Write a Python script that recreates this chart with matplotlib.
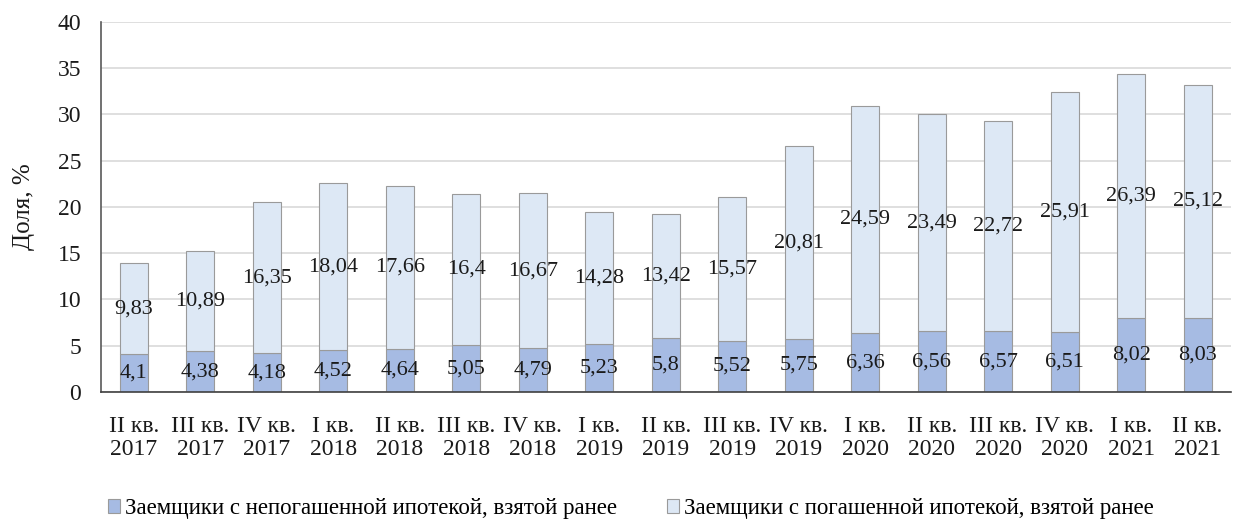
import numpy as np
import matplotlib.pyplot as plt

# Quarters on the X axis
quarters = ['II кв.\n2017', 'III кв.\n2017', 'IV кв.\n2017',
            'I кв.\n2018', 'II кв.\n2018', 'III кв.\n2018', 'IV кв.\n2018',
            'I кв.\n2019', 'II кв.\n2019', 'III кв.\n2019', 'IV кв.\n2019',
            'I кв.\n2020', 'II кв.\n2020', 'III кв.\n2020', 'IV кв.\n2020',
            'I кв.\n2021', 'II кв.\n2021']

# Shares, %
unpaid = [4.1, 4.38, 4.18, 4.52, 4.64, 5.05, 4.79, 5.23, 5.8, 5.52, 5.75,
          6.36, 6.56, 6.57, 6.51, 8.02, 8.03]
paid = [9.83, 10.89, 16.35, 18.04, 17.66, 16.4, 16.67, 14.28, 13.42, 15.57,
        20.81, 24.59, 23.49, 22.72, 25.91, 26.39, 25.12]

label_unpaid = 'Заемщики с непогашенной ипотекой, взятой ранее'
label_paid = 'Заемщики с погашенной ипотекой, взятой ранее'

plt.rcParams['font.family'] = ['Liberation Serif', 'DejaVu Serif']

fig = plt.figure(figsize=(12.42, 5.21), dpi=100)
ax = fig.add_axes([0.081, 0.2476, 0.91, 0.7102])

x = np.arange(len(quarters))
w = 0.42
ax.bar(x, unpaid, w, color='#a6bbe3', edgecolor='#9a9a9a', linewidth=0.8,
       label=label_unpaid, zorder=2)
ax.bar(x, paid, w, bottom=unpaid, color='#dde8f5', edgecolor='#9a9a9a',
       linewidth=0.8, label=label_paid, zorder=2)

# Value labels inside segments
for i in range(len(x)):
    ax.text(x[i], unpaid[i] / 2, f'{unpaid[i]:g}'.replace('.', ','),
            ha='center', va='center', fontsize=16, color='#1a1a1a', zorder=3)
    ax.text(x[i], unpaid[i] + paid[i] / 2, f'{paid[i]:g}'.replace('.', ','),
            ha='center', va='center', fontsize=16, color='#1a1a1a', zorder=3)

ax.set_xlim(-0.5, len(x) - 0.5)
ax.set_ylim(0, 40)
ax.set_yticks(np.arange(0, 41, 5))
ax.set_xticks(x)
ax.set_xticklabels(quarters, linespacing=1.15)
ax.tick_params(length=0, colors='#1a1a1a')
ax.tick_params(axis='x', labelsize=17, pad=17)
ax.tick_params(axis='y', labelsize=17, pad=14)
ax.grid(axis='y', color='#d9d9d9', linewidth=1.2, zorder=0)
ax.set_axisbelow(True)

for s in ['top', 'right']:
    ax.spines[s].set_visible(False)
ax.spines['left'].set_color('#595959')
ax.spines['left'].set_linewidth(1.2)
ax.spines['bottom'].set_color('#404040')
ax.spines['bottom'].set_linewidth(1.2)

ax.set_ylabel('Доля, %', fontsize=18, labelpad=16, color='#1a1a1a')

fig.legend(loc='center', bbox_to_anchor=(0.508, 0.024), ncol=2, frameon=False,
           fontsize=16.5, handlelength=0.52, handleheight=0.52,
           handletextpad=0.22, columnspacing=2.2)

plt.savefig('out.png')
